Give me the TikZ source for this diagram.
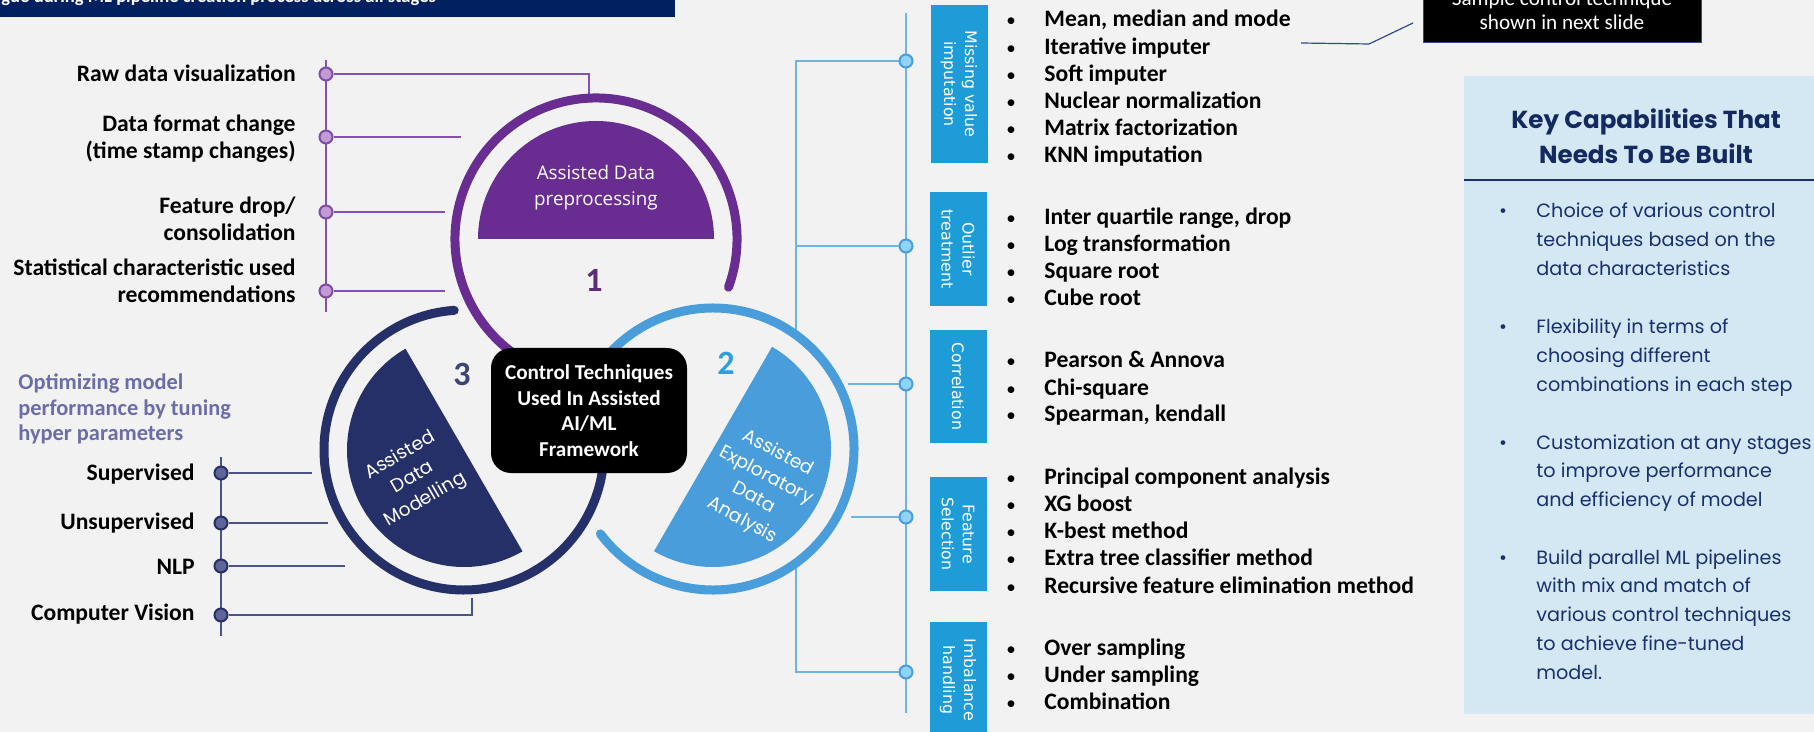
\documentclass[tikz,border=0pt]{standalone}
\usepackage{fontspec}
\setmainfont{Carlito}
\newfontfamily\geofont{Poppins}
\newfontfamily\humfont{Open Sans}
\newfontfamily\verfont{DejaVu Sans}
\definecolor{bgc}{HTML}{F2F2F2}
\definecolor{banner}{HTML}{002060}
\definecolor{purp}{HTML}{692C91}
\definecolor{purpline}{HTML}{8450B8}
\definecolor{purpdot}{HTML}{C29BD6}
\definecolor{purpnum}{HTML}{5C2D78}
\definecolor{skyb}{HTML}{4A9DDB}
\definecolor{skynum}{HTML}{2E9FDB}
\definecolor{treeline}{HTML}{6DB5E5}
\definecolor{treedot}{HTML}{8FD4F4}
\definecolor{boxblue}{HTML}{1E9CD8}
\definecolor{navy}{HTML}{253068}
\definecolor{navynum}{HTML}{3D4479}
\definecolor{slate}{HTML}{4B5288}
\definecolor{slatedot}{HTML}{5F6597}
\definecolor{slatetext}{HTML}{6B6DA6}
\definecolor{panel}{HTML}{D4E8F4}
\definecolor{paneltext}{HTML}{17306E}
\definecolor{calloutc}{HTML}{2F4C8C}
\newcommand\bodyfont{\fontsize{11.8}{13.5}\selectfont\bfseries}
\newcommand\keyfont{\geofont\fontsize{9.6}{14.5}\selectfont}

\begin{document}
\begin{tikzpicture}[x=0.5pt,y=-0.5pt,
  ring/.style={line width=4.5pt,line cap=round},
  pconn/.style={purpline,line width=0.8pt},
  nconn/.style={slate,line width=0.8pt},
  tconn/.style={treeline,line width=0.8pt},
  pdot/.style={circle,draw=purp!85,fill=purpdot,line width=1pt,minimum size=6.5pt,inner sep=0pt},
  ndot/.style={circle,draw=navy,fill=slatedot,line width=1pt,minimum size=6.5pt,inner sep=0pt},
  tdot/.style={circle,draw=skyb,fill=treedot,line width=1pt,minimum size=6.5pt,inner sep=0pt},
  lab/.style={font=\bodyfont,align=right,anchor=east,inner sep=0pt},
  item/.style={font=\bodyfont,anchor=base west,inner sep=0pt},
  blt/.style={font=\fontsize{9.5}{10}\selectfont,anchor=base,inner sep=0pt},
  lbox/.style={fill=boxblue,text=white,rotate=-90,align=center,inner sep=0pt,
    minimum height=28.5pt,font=\verfont\fontsize{7.9}{10.5}\selectfont},
  keyitem/.style={font=\keyfont,text=paneltext,anchor=base west,inner sep=0pt},
  keyblt/.style={font=\keyfont,text=paneltext,anchor=base,inner sep=0pt},
  num/.style={font=\fontsize{17}{17}\selectfont\bfseries,inner sep=0pt}]
\useasboundingbox (0,0) rectangle (1814,732);
\fill[bgc] (0,0) rectangle (1814,732);
\begin{scope}
\clip (0,0) rectangle (1814,732);
% banner and note
\fill[banner] (0,-10) rectangle (675,17.3);
\node[anchor=base west,text=white,font=\fontsize{9.3}{11}\selectfont\bfseries,inner sep=0pt] (bantxt) at (1,2.5) {gue during ML pipeline creation process across all stages};
\node[fill=black,draw=calloutc,line width=0.5pt,minimum width=139pt,minimum height=26.5pt,inner sep=0pt] (note) at (1562,16.5) {};
\node[text=white,font=\fontsize{10.6}{12}\selectfont,align=center,inner sep=0pt] (notetxt) at (1562,10.7) {Sample control technique\\shown in next slide};
\coordinate (co1) at (1301,43);
\coordinate (co2) at (1369,44);
\coordinate (co3) at (1413,23);
\draw[calloutc,line width=0.6pt] (co1) -- (co2) -- (co3);

% key capabilities panel
\fill[panel] (1464,76) rectangle (1814,714);
\draw[paneltext,line width=1pt] (1464,180) -- (1814,180);
\node[font=\geofont\fontsize{12.3}{17.5}\selectfont\bfseries,text=paneltext!85!black,align=center,inner sep=0pt] (keytitle) at (1646,136) {Key Capabilities That\\Needs To Be Built};
\node[keyblt] (kab) at (1503,218) {\textbullet};
\foreach \t [count=\i] in {Choice of various control,techniques based on the,data characteristics}
  \node[keyitem] (ka\i) at (1536,{218+28.8*(\i-1)}) {\t};
\node[keyblt] (kbb) at (1503,334) {\textbullet};
\foreach \t [count=\i] in {Flexibility in terms of,choosing different,combinations in each step}
  \node[keyitem] (kb\i) at (1536,{334+28.8*(\i-1)}) {\t};
\node[keyblt] (kcb) at (1503,449) {\textbullet};
\foreach \t [count=\i] in {Customization at any stages,to improve performance,and efficiency of model}
  \node[keyitem] (kc\i) at (1536,{449+28.8*(\i-1)}) {\t};
\node[keyblt] (kdb) at (1503,564) {\textbullet};
\foreach \t [count=\i] in {Build parallel ML pipelines,with mix and match of,various control techniques,to achieve fine-tuned,model.}
  \node[keyitem] (kd\i) at (1536,{564+28.8*(\i-1)}) {\t};

% preprocessing list
\coordinate (pt) at (326,60);
\coordinate (pb) at (326,312);
\draw[pconn] (pt) -- (pb);
\node[pdot] (pd1) at (326,74) {};
\node[pdot] (pd2) at (326,137) {};
\node[pdot] (pd3) at (326,212) {};
\node[pdot] (pd4) at (326,291) {};
\coordinate (pe1) at (589,95);
\coordinate (pe2) at (461,137);
\coordinate (pe3) at (445,212);
\coordinate (pe4) at (445,291);
\draw[pconn] (pd1) -| (pe1);
\draw[pconn] (pd2) -- (pe2);
\draw[pconn] (pd3) -- (pe3);
\draw[pconn] (pd4) -- (pe4);
\node[lab] (raw) at (296,73) {Raw data visualization};
\node[lab] (fmt) at (296,139) {Data format change\\(time stamp changes)};
\node[lab] (fdrop) at (296,218.5) {Feature drop/\\consolidation};
\node[lab] (stat) at (296,281) {Statistical characteristic used\\recommendations};

% modelling list
\node[font=\fontsize{11.2}{12.75}\selectfont\bfseries,text=slatetext,align=left,anchor=west,inner sep=0pt] (tune) at (18,409) {Optimizing model\\performance by tuning\\hyper parameters};
\coordinate (nt) at (221,457);
\coordinate (nb) at (221,636);
\draw[nconn] (nt) -- (nb);
\node[ndot] (nd1) at (221,473) {};
\node[ndot] (nd2) at (221,523) {};
\node[ndot] (nd3) at (221,566) {};
\node[ndot] (nd4) at (221,615) {};
\coordinate (ne1) at (312,473);
\coordinate (ne2) at (328,523);
\coordinate (ne3) at (345,566);
\coordinate (ne4) at (472,598);
\draw[nconn] (nd1) -- (ne1);
\draw[nconn] (nd2) -- (ne2);
\draw[nconn] (nd3) -- (ne3);
\draw[nconn] (nd4) -| (ne4);
\node[lab] (sup) at (195,474) {Supervised};
\node[lab] (uns) at (195,523) {Unsupervised};
\node[lab] (nlp) at (195,567) {NLP};
\node[lab] (cv) at (195,614) {Computer Vision};

% exploratory tree
\coordinate (tt) at (906,13);
\coordinate (tb) at (906,713);
\draw[tconn] (tt) -- (tb);
\node[tdot] (td1) at (906,61) {};
\node[tdot] (td2) at (906,246) {};
\node[tdot] (td3) at (906,384) {};
\node[tdot] (td4) at (906,517) {};
\node[tdot] (td5) at (906,672) {};
\coordinate (bk1) at (796,61);
\coordinate (bk2) at (796,246);
\coordinate (bk3) at (796,332);
\coordinate (bk4) at (796,564);
\coordinate (bk5) at (796,672);
\coordinate (ce3) at (848,384);
\coordinate (ce4) at (851,517);
\draw[tconn] (bk3) -- (bk1) -- (td1);
\draw[tconn] (bk2) -- (td2);
\draw[tconn] (ce3) -- (td3);
\draw[tconn] (ce4) -- (td4);
\draw[tconn] (bk4) -- (bk5) -- (td5);

\node[lbox,minimum width=79pt] (lbmiss) at (959,84) {Missing value\\imputation};
\node[lbox,minimum width=57pt] (lbout) at (958,249) {Outlier\\treatment};
\node[lbox,minimum width=56.5pt] (lbcorr) at (958,386.5) {Correlation};
\node[lbox,minimum width=57pt] (lbfeat) at (958,534) {Feature\\Selection};
\node[lbox,minimum width=58pt] (lbimb) at (958,680) {Imbalance\\handling};

\foreach \t [count=\i] in {{Mean, median and mode},Iterative imputer,Soft imputer,Nuclear normalization,Matrix factorization,KNN imputation}{
  \node[blt] (mvb\i) at (1011,{27+27.2*(\i-1)}) {\textbullet};
  \node[item] (mv\i) at (1044,{27+27.2*(\i-1)}) {\t};
}
\foreach \t [count=\i] in {{Inter quartile range, drop},Log transformation,Square root,Cube root}{
  \node[blt] (otb\i) at (1011,{225+26.7*(\i-1)}) {\textbullet};
  \node[item] (ot\i) at (1044,{225+26.7*(\i-1)}) {\t};
}
\foreach \t [count=\i] in {Pearson \& Annova,Chi-square,{Spearman, kendall}}{
  \node[blt] (crb\i) at (1011,{368+27*(\i-1)}) {\textbullet};
  \node[item] (cr\i) at (1044,{368+27*(\i-1)}) {\t};
}
\foreach \t [count=\i] in {Principal component analysis,XG boost,K-best method,Extra tree classifier method,Recursive feature elimination method}{
  \node[blt] (fsb\i) at (1011,{484+27.25*(\i-1)}) {\textbullet};
  \node[item] (fs\i) at (1044,{484+27.25*(\i-1)}) {\t};
}
\foreach \t [count=\i] in {Over sampling,Under sampling,Combination}{
  \node[blt] (imb\i) at (1011,{655+27*(\i-1)}) {\textbullet};
  \node[item] (im\i) at (1044,{655+27*(\i-1)}) {\t};
}

% the three stages
\coordinate (c1) at (596,239);
\coordinate (c2) at (713,449);
\coordinate (c3) at (464,450);
\fill[purp] ([shift={(0:118)}]c1) arc[start angle=0,end angle=-180,radius=118] -- cycle;
\draw[ring,purp] ([shift={(20:141)}]c1) arc[start angle=20,end angle=-250,radius=141];
\fill[skyb] ([shift={(-60:118)}]c2) arc[start angle=-60,end angle=120,radius=118] -- cycle;
\draw[ring,skyb] ([shift={(143:141)}]c2) arc[start angle=143,end angle=-170,radius=141];
\fill[navy] ([shift={(-120:117)}]c3) arc[start angle=-120,end angle=-300,radius=117] -- cycle;
\draw[ring,navy] ([shift={(-94:140)}]c3) arc[start angle=-94,end angle=-380,radius=140];

\node[text=white,font=\humfont\fontsize{9.4}{13}\selectfont,align=center,inner sep=0pt] (prep) at (596,188) {Assisted Data\\preprocessing};
\node[text=white,font=\geofont\fontsize{9.3}{12.7}\selectfont,align=center,inner sep=0pt,rotate=-28] (eda) at (760,487) {Assisted\\Exploratory\\Data\\Analysis};
\node[text=white,font=\geofont\fontsize{9.3}{12.7}\selectfont,align=center,inner sep=0pt,rotate=30] (model) at (413,478) {Assisted\\Data\\Modelling};
\node[num,text=purpnum] (n1) at (594,280) {1};
\node[num,text=skynum] (n2) at (726,363) {2};
\node[num,text=navynum] (n3) at (462,374) {3};

\node[fill=black,text=white,rounded corners=10pt,minimum width=98pt,minimum height=62.5pt,inner sep=0pt,
  font=\fontsize{10.6}{12.85}\selectfont\bfseries,align=center] (core) at (589,410.5) {Control Techniques\\Used In Assisted\\AI/ML\\Framework};
\end{scope}
\end{tikzpicture}
\end{document}
